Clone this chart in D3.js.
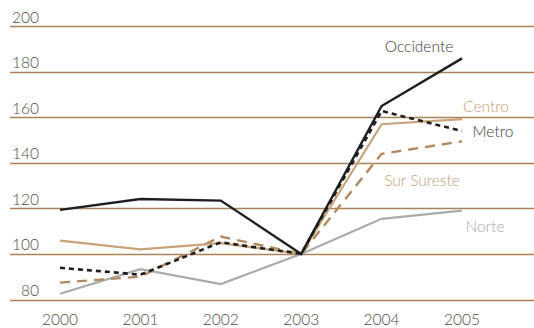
<!DOCTYPE html>
<html>
<head>
<meta charset="utf-8">
<script src="https://cdn.jsdelivr.net/npm/d3@7"></script>
<style>
  html, body { margin: 0; padding: 0; background: #fff; }
  svg { display: block; }
  text { font-family: Lato, "Open Sans", sans-serif; font-weight: 300; }
</style>
</head>
<body>
<svg id="chart" width="534" height="328"></svg>
<script>
// Regional index by year (2003 = 100)
const years = [2000, 2001, 2002, 2003, 2004, 2005];
const yTicks = [80, 100, 120, 140, 160, 180, 200];

const occidente  = [119.3, 124.1, 123.4, 100, 164.9, 185.8];
const centro     = [105.8, 102.0, 104.7, 100, 156.9, 159.1];
const metro      = [93.9, 90.9, 105.1, 100, 162.7, 153.9];
const surSureste = [87.4, 90.0, 107.6, 100, 143.9, 149.4];
const norte      = [82.5, 93.3, 86.8, 100, 115.4, 119.0];

const seriesNames = ["Norte", "Sur Sureste", "Centro", "Metro", "Occidente"];
const seriesValues = [norte, surSureste, centro, metro, occidente];

const styles = {
  "Occidente":   { stroke: "#1e1e1e", width: 2.4, dash: null,  label: "#3a3a3a", lx: 419, ly: 47 },
  "Centro":      { stroke: "#c8a27a", width: 2.2, dash: null,  label: "#c49d74", lx: 486, ly: 107 },
  "Metro":       { stroke: "#1e1e1e", width: 2.6, dash: "5,4", label: "#3a3a3a", lx: 493, ly: 132 },
  "Sur Sureste": { stroke: "#b08a5e", width: 2.4, dash: "10,7", label: "#c49d74", lx: 422, ly: 181 },
  "Norte":       { stroke: "#aaaaaa", width: 2.2, dash: null,  label: "#a8a8a8", lx: 485, ly: 227 }
};

const svg = d3.select("#chart");

const x = d3.scalePoint().domain(years).range([60, 462]);
const y = d3.scaleLinear().domain([80, 200]).range([299.5, 26]);

// horizontal gridlines
svg.append("g").selectAll("line").data(yTicks).join("line")
  .attr("x1", 10).attr("x2", 534)
  .attr("y1", d => Math.round(y(d)) + 0.5).attr("y2", d => Math.round(y(d)) + 0.5)
  .attr("stroke", "#a98259").attr("stroke-width", 1.3);

// y tick labels
svg.append("g").selectAll("text").data(yTicks).join("text")
  .attr("x", 39).attr("y", d => y(d) - 3.5)
  .attr("text-anchor", "end")
  .attr("font-size", 15.5).attr("fill", "#4a4a4a")
  .text(d => d);

// x tick labels
svg.append("g").selectAll("text").data(years).join("text")
  .attr("x", d => x(d)).attr("y", 325)
  .attr("text-anchor", "middle")
  .attr("font-size", 15.5).attr("fill", "#4a4a4a")
  .text(d => d);

const line = d3.line().x((d, i) => x(years[i])).y(d => y(d));

seriesNames.forEach((name, k) => {
  const s = styles[name];
  svg.append("path")
    .datum(seriesValues[k])
    .attr("d", line)
    .attr("fill", "none")
    .attr("stroke", s.stroke)
    .attr("stroke-width", s.width)
    .attr("stroke-dasharray", s.dash)
    .attr("stroke-linejoin", "miter");
  svg.append("text")
    .attr("x", s.lx).attr("y", s.ly)
    .attr("dy", "0.35em")
    .attr("text-anchor", "middle")
    .attr("font-size", 15.5)
    .attr("fill", s.label)
    .text(name);
});
</script>
</body>
</html>
